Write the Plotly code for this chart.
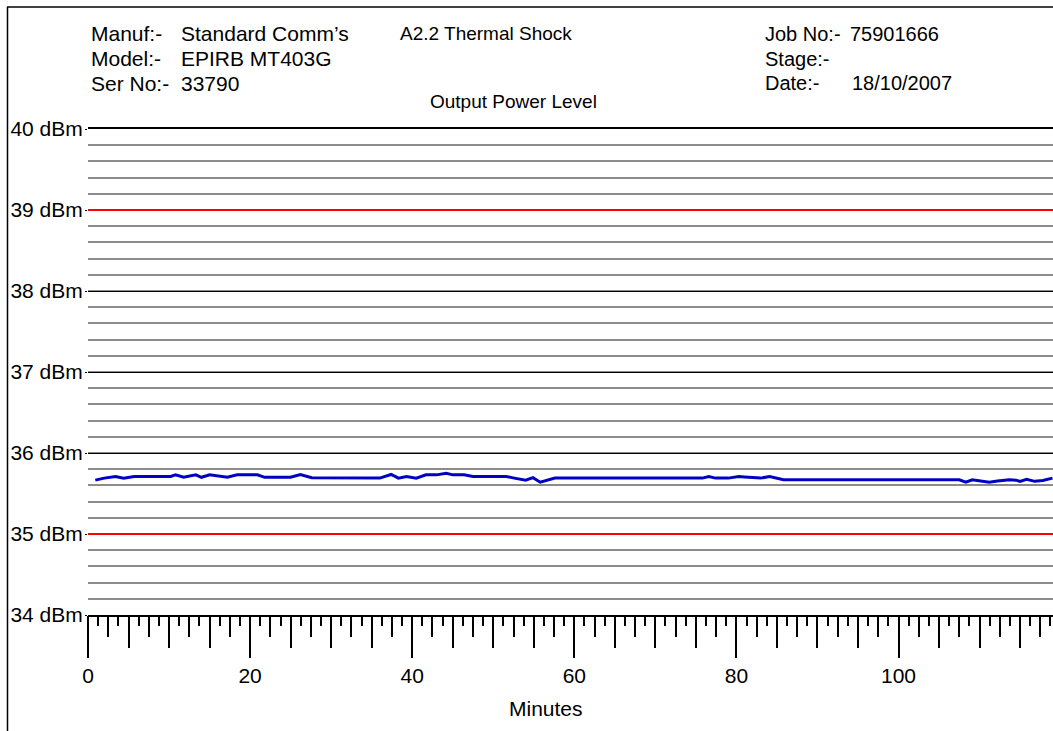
import plotly.graph_objects as go

# Output power readings over the thermal shock run
minutes = [0.9, 2.0, 3.4, 4.4, 5.7, 10.2, 10.8, 11.8, 13.3, 14.0, 15.0, 15.8, 17.2, 18.4,
           20.9, 21.8, 25.0, 26.2, 27.6, 36.0, 37.4, 38.3, 39.3, 40.5, 41.7, 43.0, 44.2,
           45.0, 46.4, 47.5, 51.6, 52.6, 54.0, 54.9, 55.8, 57.6, 75.8, 76.6, 77.4, 79.0,
           80.3, 81.0, 82.3, 83.0, 84.1, 85.8, 107.5, 108.3, 109.1, 110.1, 111.2, 112.2,
           113.7, 114.5, 115.0, 115.8, 116.8, 117.8, 119.0]
power_dbm = [35.665, 35.69, 35.71, 35.69, 35.71, 35.71, 35.73, 35.70, 35.73, 35.70, 35.73,
             35.72, 35.70, 35.73, 35.73, 35.70, 35.70, 35.735, 35.695, 35.69, 35.735, 35.69,
             35.71, 35.69, 35.73, 35.73, 35.75, 35.73, 35.73, 35.71, 35.71, 35.69, 35.665,
             35.695, 35.64, 35.69, 35.69, 35.71, 35.69, 35.69, 35.71, 35.705, 35.69, 35.69,
             35.71, 35.67, 35.67, 35.64, 35.67, 35.66, 35.64, 35.655, 35.67, 35.665, 35.65,
             35.675, 35.65, 35.66, 35.69]

# Axis labelling
y_tick_vals = [34, 35, 36, 37, 38, 39, 40]
y_tick_text = ["34 dBm", "35 dBm", "36 dBm", "37 dBm", "38 dBm", "39 dBm", "40 dBm"]
x_tick_vals = [0, 20, 40, 60, 80, 100]
x_tick_text = ["0", "20", "40", "60", "80", "100"]

# Upper / lower power limits
limit_levels = [39, 35]

FONT = "Arial, 'Liberation Sans', sans-serif"
FS = 21
W, H = 1053, 731
L, R, T, B = 88, 0, 129, 116
X_RANGE = [0, 119.06]


def px_x(px):
    return (px - L) / (W - L - R)


def px_y(py):
    return (H - B - py) / (H - T - B)


fig = go.Figure()

# Limit lines live on the fine-tick axis so that axis gets drawn
for lvl in limit_levels:
    fig.add_trace(go.Scatter(
        x=X_RANGE, y=[lvl, lvl], mode="lines", xaxis="x2", yaxis="y",
        line=dict(color="#FF0000", width=2), hoverinfo="skip", showlegend=False,
    ))

fig.add_trace(go.Scatter(
    x=minutes, y=power_dbm, mode="lines",
    line=dict(color="#0000C4", width=3),
    hoverinfo="x+y", showlegend=False,
))

# Frame around the sheet
fig.add_shape(type="line", xref="paper", yref="paper", x0=px_x(7), x1=px_x(W + 2), y0=px_y(7),
              y1=px_y(7), line=dict(color="black", width=1.5))
fig.add_shape(type="line", xref="paper", yref="paper", x0=px_x(7.5), x1=px_x(7.5), y0=px_y(7),
              y1=px_y(H + 2), line=dict(color="black", width=1.5))

# (text, left x px, centre y px, font size)
header = [
    ("Manuf:-", 89, 34, 21), ("Standard Comm\u2019s", 179, 34, 21),
    ("Model:-", 89, 58.5, 21), ("EPIRB MT403G", 179, 58.5, 21),
    ("Ser No:-", 89, 83, 21), ("33790", 179, 83, 21),
    ("A2.2 Thermal Shock", 398, 34, 19),
    ("Job No:-", 763, 34, 20), ("75901666", 848, 34, 20),
    ("Stage:-", 763, 58.5, 20),
    ("Date:-", 763, 83, 20), ("18/10/2007", 850, 83, 20),
]
for text, x, y, size in header:
    fig.add_annotation(text=text, xref="paper", yref="paper", x=px_x(x), y=px_y(y),
                       xanchor="left", yanchor="middle", showarrow=False,
                       font=dict(family=FONT, size=size, color="black"))

fig.add_annotation(text="Output Power Level", xref="paper", yref="paper", x=px_x(513),
                   y=px_y(101), xanchor="center", yanchor="middle", showarrow=False,
                   font=dict(family=FONT, size=19, color="black"))
fig.add_annotation(text="Minutes", xref="paper", yref="paper", x=px_x(546), y=px_y(708),
                   xanchor="center", yanchor="middle", showarrow=False,
                   font=dict(family=FONT, size=FS, color="black"))

fig.update_layout(
    width=W, height=H,
    margin=dict(l=L, r=R, t=T, b=B, pad=0),
    paper_bgcolor="white", plot_bgcolor="white",
    font=dict(family=FONT, size=FS, color="black"),
    xaxis=dict(
        range=X_RANGE, showgrid=False, zeroline=False,
        showline=True, mirror=True, linecolor="black", linewidth=1.5,
        tickmode="array", tickvals=x_tick_vals, ticktext=x_tick_text,
        ticks="outside", ticklen=41, tickwidth=1.5, tickcolor="black",
        ticklabelstandoff=0,
        minor=dict(dtick=5, tick0=0, ticks="outside", ticklen=31, tickwidth=1.5,
                   tickcolor="black", showgrid=False),
        tickfont=dict(family=FONT, size=FS), fixedrange=True,
    ),
    xaxis2=dict(
        range=X_RANGE, overlaying="x", anchor="y", side="bottom",
        showgrid=False, zeroline=False, showline=False, showticklabels=False,
        tickmode="linear", tick0=0, dtick=2.5,
        ticks="outside", ticklen=21, tickwidth=1.5, tickcolor="black",
        minor=dict(dtick=1.25, tick0=0, ticks="outside", ticklen=10, tickwidth=1.5,
                   tickcolor="black", showgrid=False),
        fixedrange=True,
    ),
    yaxis=dict(
        range=[34, 40], zeroline=False, showline=False,
        tickmode="array", tickvals=y_tick_vals, ticktext=y_tick_text,
        showgrid=True, gridcolor="black", gridwidth=1,
        ticks="outside", ticklen=2, tickcolor="black", tickwidth=1,
        ticklabelstandoff=-2,
        minor=dict(dtick=0.2, tick0=34, showgrid=True, gridcolor="#8C8C8C", gridwidth=1.5,
                   ticks=""),
        tickfont=dict(family=FONT, size=FS), fixedrange=True,
    ),
)

fig.write_html("out.html")
